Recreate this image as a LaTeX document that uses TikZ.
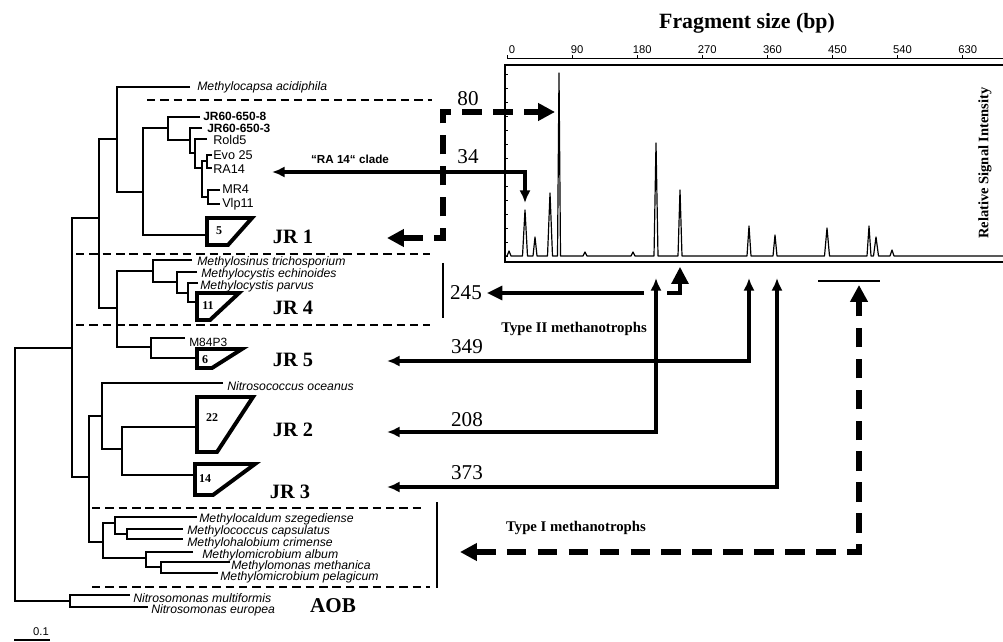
\documentclass[tikz,border=0pt]{standalone}
\usepackage{fontspec}
\setmainfont{Liberation Serif}
\setsansfont{Liberation Sans}
\usetikzlibrary{arrows.meta}

\tikzset{
  bighead/.tip={Triangle[length=12pt,width=12pt]},
  smallhead/.tip={Latex[length=9pt,width=8pt]},
}

\begin{document}
\begin{tikzpicture}[x=0.025cm,y=-0.025cm,
  branch/.style={line width=1.4pt},
  clade/.style={line width=2.8pt,line join=miter},
  boxdash/.style={line width=1.8pt,dash pattern=on 6pt off 3.5pt},
  bigdash/.style={line width=3.6pt,dash pattern=on 14pt off 8pt},
  solidarr/.style={line width=2.2pt},
  species/.style={anchor=west,inner sep=0pt,font=\sffamily\itshape\fontsize{8.7}{9}\selectfont},
  strain/.style={anchor=west,inner sep=0pt,font=\sffamily\fontsize{9}{10}\selectfont},
  jrlabel/.style={font=\bfseries\fontsize{14.5}{16}\selectfont},
  cladenum/.style={inner sep=0pt,font=\bfseries\fontsize{8.5}{9}\selectfont},
  sizenum/.style={font=\fontsize{15}{17}\selectfont},
  grouplab/.style={font=\bfseries\fontsize{10.5}{12}\selectfont},
  ticklab/.style={inner sep=0pt,font=\sffamily\fontsize{8}{9}\selectfont},
]
\useasboundingbox (0,0) rectangle (1003,642);

\draw[branch] (72,348) -| (15,601) -- (70,601);
\draw[branch] (130,595) -| (70,607) -- (148,607);
\draw[branch] (99,218) -| (72,477) -- (89,477);
\draw[branch] (117,139) -| (99,308) -- (117,308);
\draw[branch] (190,87) -| (117,192) -- (143,192);
\draw[branch] (168,128) -| (143,235) -- (207,235);
\draw[branch] (200,117) -| (168,140) -- (190,140);
\draw[branch] (202,128) -| (190,153) -- (195,153);
\draw[branch] (207,139) -| (195,168) -- (202,168);
\draw[branch] (207,161) -| (202,197) -- (208,197);
\draw[branch] (212,155) -| (207,168) -- (212,168);
\draw[branch] (220,190) -| (208,204) -- (220,204);
\draw[branch] (153,271) -| (117,347) -- (151,347);
\draw[branch] (192,260) -| (153,282) -- (177,282);
\draw[branch] (197,272) -| (177,293) -- (188,293);
\draw[branch] (198,283) -| (188,302) -- (197,302);
\draw[branch] (185,338) -| (151,358) -- (197,358);
\draw[branch] (102,416) -| (89,542) -- (103,542);
\draw[branch] (223,383) -| (102,449) -- (122,449);
\draw[branch] (197,427) -| (122,475) -- (195,475);
\draw[branch] (115,523) -| (103,558) -- (146,558);
\draw[branch] (197,517) -| (115,534) -- (127,534);
\draw[branch] (183,529) -| (127,539) -- (183,539);
\draw[branch] (193,552) -| (146,567) -- (161,567);
\draw[branch] (230,562) -| (161,573) -- (218,573);

\draw[clade] (207,218) -- (252,218) -- (228,245) -- (207,245) -- cycle;
\draw[clade] (197,293) -- (239,293) -- (210,320) -- (197,320) -- cycle;
\draw[clade] (197,349) -- (242,349) -- (212,368) -- (197,368) -- cycle;
\draw[clade] (197,397) -- (253,397) -- (217,452) -- (197,452) -- cycle;
\draw[clade] (195,464) -- (255,464) -- (213,495) -- (195,495) -- cycle;
\node[cladenum] (n5) at (219,231) {5};
\node[cladenum] (n11) at (208,306) {11};
\node[cladenum] (n6) at (205,360) {6};
\node[cladenum] (n22) at (212,418) {22};
\node[cladenum] (n14) at (205,479) {14};

\node[species] (acidiphila) at (197,87) {Methylocapsa acidiphila};
\node[strain,font=\sffamily\bfseries\fontsize{8.5}{9}\selectfont] (jr8) at (203,116) {JR60-650-8};
\node[strain,font=\sffamily\bfseries\fontsize{8.5}{9}\selectfont] (jr3b) at (207,128) {JR60-650-3};
\node[strain] (rold5) at (213,140) {Rold5};
\node[strain] (evo25) at (213,155) {Evo 25};
\node[strain] (ra14) at (213,169) {RA14};
\node[strain] (mr4) at (222,189) {MR4};
\node[strain] (vlp11) at (222,204) {Vlp11};
\node[species] (trich) at (197,262) {Methylosinus trichosporium};
\node[species] (echin) at (201,274) {Methylocystis echinoides};
\node[species] (parvus) at (200,286) {Methylocystis parvus};
\node[strain,font=\sffamily\fontsize{8.5}{9}\selectfont] (m84p3) at (189,342) {M84P3};
\node[species] (oceanus) at (227,386) {Nitrosococcus oceanus};
\node[species] (szeg) at (199,519) {Methylocaldum szegediense};
\node[species] (capsul) at (187,531) {Methylococcus capsulatus};
\node[species] (crim) at (187,543) {Methylohalobium crimense};
\node[species] (album) at (202,555) {Methylomicrobium album};
\node[species] (methanica) at (231,566) {Methylomonas methanica};
\node[species] (pelag) at (220,577) {Methylomicrobium pelagicum};
\node[species] (multif) at (133,598) {Nitrosomonas multiformis};
\node[species] (europ) at (151,610) {Nitrosomonas europea};

\node[jrlabel] (jr1) at (293,237) {JR 1};
\node[jrlabel] (jr4) at (293,308) {JR 4};
\node[jrlabel] (jr5) at (293,360) {JR 5};
\node[jrlabel] (jr2) at (293,430) {JR 2};
\node[jrlabel] (jr3) at (290,492) {JR 3};
\node[jrlabel,font=\bfseries\fontsize{15}{17}\selectfont] (aob) at (333,606) {AOB};

\draw[boxdash] (147,100) -- (432,100);
\draw[boxdash] (76,254) -- (430,254);
\draw[boxdash] (76,325) -- (430,325);
\draw[boxdash] (92,508) -- (423,508);
\draw[boxdash] (92,587) -- (430,587);
\draw[line width=1pt] (443,263) -- (443,318);
\draw[line width=1pt] (437,502) -- (437,588);

\node[font=\bfseries\fontsize{15.5}{17}\selectfont] (title) at (747,23) {Fragment size (bp)};
\draw[line width=0.7pt] (507,58) -- (1003,58);
\foreach \v [count=\i from 0] in {0,90,...,630}{
  \draw[line width=0.6pt] (507+65.1*\i,58) -- (507+65.1*\i,55);
  \node[ticklab] (t\i) at (512+65.1*\i,50) {\v};
}
\draw[line width=1pt] (1003,65) -- (505,65) -- (505,262) -- (1003,262);
\foreach \t in {74,88,...,256} \draw[line width=0.5pt] (505,\t) -- (508,\t);
\draw[line width=0.85pt,line join=round] (505,256)
  \foreach \px/\py/\pw in {509/251/2,525/210/2.5,535/237/2,550/193/2.5,559/73/1.5,585/252/2,
    633/252/2,656/143/2,680/190/2,749/226/2,775/235/2,827/228/2.5,869/226/2,876/237/2.5,892/250/2}
  { -- (\px-\pw,256) -- (\px,\py) -- (\px+\pw,256) } -- (1003,256);
\node[rotate=90,font=\bfseries\fontsize{10.3}{12}\selectfont] (rsi) at (985,163) {Relative Signal Intensity};
\draw[line width=1pt] (818,281) -- (880,281);

\coordinate (pk80) at (555,112);
\coordinate (c80) at (443,112);
\coordinate (a80) at (387,238);
\draw[bigdash,{bighead}-{bighead}] (a80) -| (c80) -- (pk80);
\node[sizenum] (l80) at (468,99) {80};

\coordinate (pk34) at (525,203);
\coordinate (a34) at (272,172);
\draw[solidarr,{smallhead}-{smallhead}] (a34) -- (pk34 |- a34) -- (pk34);
\node[sizenum] (l34) at (468,157) {34};
\node[font=\sffamily\bfseries\fontsize{8.3}{9}\selectfont] (clade) at (350,159) {“RA 14“ clade};

\coordinate (pk245) at (680,267);
\coordinate (g245r) at (667,293);
\coordinate (g245l) at (644,293);
\coordinate (a245) at (487,293);
\draw[solidarr,-{bighead}] (g245r) -| (pk245);
\draw[solidarr,-{Triangle[length=11pt,width=10pt]}] (g245l) -- (a245);
\node[sizenum] (l245) at (466,293) {245};
\node[grouplab] (type2) at (574,329) {Type II methanotrophs};

\coordinate (pk208) at (656,278);
\coordinate (a208) at (387,432);
\draw[solidarr,{smallhead}-{smallhead}] (a208) -| (pk208);
\node[sizenum] (l208) at (467,420) {208};

\coordinate (pk349) at (749,278);
\coordinate (a349) at (387,361);
\draw[solidarr,{smallhead}-{smallhead}] (a349) -| (pk349);
\node[sizenum] (l349) at (467,347) {349};

\coordinate (pk373) at (777,278);
\coordinate (a373) at (387,487);
\draw[solidarr,{smallhead}-{smallhead}] (a373) -| (pk373);
\node[sizenum] (l373) at (467,473) {373};

\coordinate (pkI) at (859,285);
\coordinate (aI) at (460,552);
\draw[bigdash,{bighead}-{bighead}] (aI) -| (pkI);
\node[grouplab] (type1) at (576,528) {Type I methanotrophs};

\draw[line width=1pt] (14,640) -- (50,640);
\node[ticklab] (scale) at (41,632) {0.1};
\end{tikzpicture}
\end{document}
